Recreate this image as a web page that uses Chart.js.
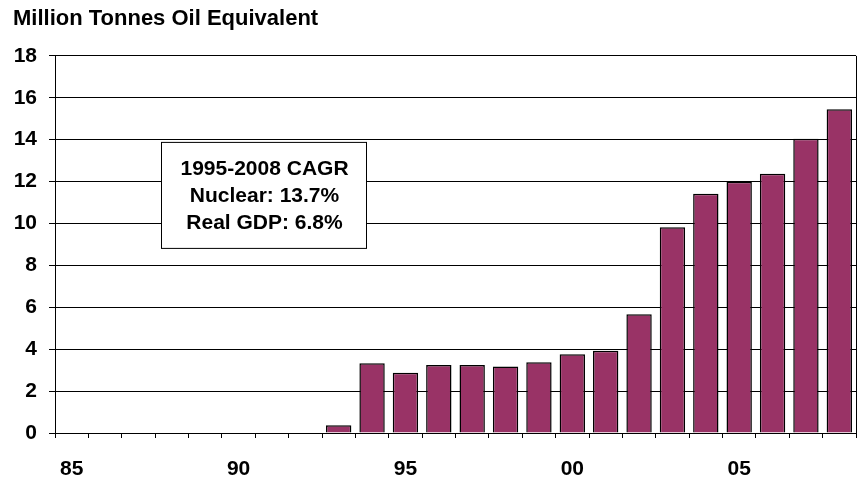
<!DOCTYPE html>
<html>
<head>
<meta charset="utf-8">
<script src="https://cdn.jsdelivr.net/npm/chart.js@4.4.0/dist/chart.umd.min.js"></script>
<style>
  html, body { margin: 0; padding: 0; background: #fff; }
  #wrap { width: 859px; height: 479px; }
</style>
</head>
<body>
<div id="wrap"><canvas id="nuclearChart" width="859" height="479"></canvas></div>
<script>
const years = ['85', '86', '87', '88', '89', '90', '91', '92', '93', '94', '95', '96',
  '97', '98', '99', '00', '01', '02', '03', '04', '05', '06', '07', '08'];
const nuclearMtoe = [0, 0, 0, 0, 0, 0, 0, 0, 0.37, 3.33, 2.88, 3.25,
  3.25, 3.18, 3.38, 3.76, 3.93, 5.67, 9.82, 11.42, 11.99, 12.37, 14.04, 15.45];
const shownYears = ['85', '90', '95', '00', '05'];
const yTicks = [0, 2, 4, 6, 8, 10, 12, 14, 16, 18];
const noteLines = ['1995-2008 CAGR', 'Nuclear: 13.7%', 'Real GDP: 6.8%'];

const boldFont = { family: '"Liberation Sans", Arial, sans-serif', size: 21, weight: 'bold' };

// right edge of the plot + the CAGR text box
const extrasPlugin = {
  id: 'extras',
  afterDraw(chart) {
    const ctx = chart.ctx;
    const area = chart.chartArea;
    ctx.save();
    ctx.strokeStyle = '#000';
    ctx.lineWidth = 1;
    ctx.beginPath();
    ctx.moveTo(area.right + 0.5, area.top);
    ctx.lineTo(area.right + 0.5, area.bottom);
    ctx.stroke();

    const bx = area.left + 106, by = area.top + 86, bw = 205, bh = 106;
    ctx.fillStyle = '#fff';
    ctx.fillRect(bx, by, bw, bh);
    ctx.strokeRect(bx + 0.5, by + 0.5, bw, bh);

    ctx.fillStyle = '#000';
    ctx.font = 'bold 21px "Liberation Sans", Arial, sans-serif';
    ctx.textAlign = 'center';
    ctx.textBaseline = 'middle';
    noteLines.forEach((line, i) => {
      ctx.fillText(line, bx + bw / 2 + 1, by + 27 + i * 27);
    });
    ctx.restore();
  }
};

const ctx = document.getElementById('nuclearChart').getContext('2d');
new Chart(ctx, {
  type: 'bar',
  data: {
    labels: years,
    datasets: [{
      data: nuclearMtoe,
      backgroundColor: '#993366',
      borderColor: '#000',
      borderWidth: 1.5,
      categoryPercentage: 1,
      barPercentage: 0.76,
    }],
  },
  options: {
    responsive: false,
    animation: false,
    layout: { padding: { left: 13, right: 3, top: 0, bottom: 0 } },
    plugins: {
      legend: { display: false },
      tooltip: { enabled: false },
      title: {
        display: true,
        text: 'Million Tonnes Oil Equivalent',
        align: 'start',
        color: '#000',
        font: { family: '"Liberation Sans", Arial, sans-serif', size: 22, weight: 'bold' },
        padding: { top: 6, bottom: 23.5 },
      },
    },
    scales: {
      x: {
        offset: true,
        afterFit: (scale) => { scale.height = 46; },
        grid: { offset: true, drawOnChartArea: false, color: '#000', tickLength: 5 },
        border: { color: '#000' },
        ticks: {
          autoSkip: false,
          maxRotation: 0,
          color: '#000',
          font: boldFont,
          padding: 19,
          callback: function (value) {
            const lbl = years[value];
            return shownYears.includes(lbl) ? lbl : '';
          },
        },
      },
      y: {
        min: 0,
        max: 18,
        afterBuildTicks: (scale) => {
          scale.ticks = yTicks.map(v => ({ value: v }));
        },
        afterFit: (scale) => { scale.width = 42; },
        grid: { color: '#000', tickLength: 6 },
        border: { color: '#000' },
        ticks: {
          color: '#000',
          font: boldFont,
          padding: 12,
        },
      },
    },
  },
  plugins: [extrasPlugin],
});
</script>
</body>
</html>
